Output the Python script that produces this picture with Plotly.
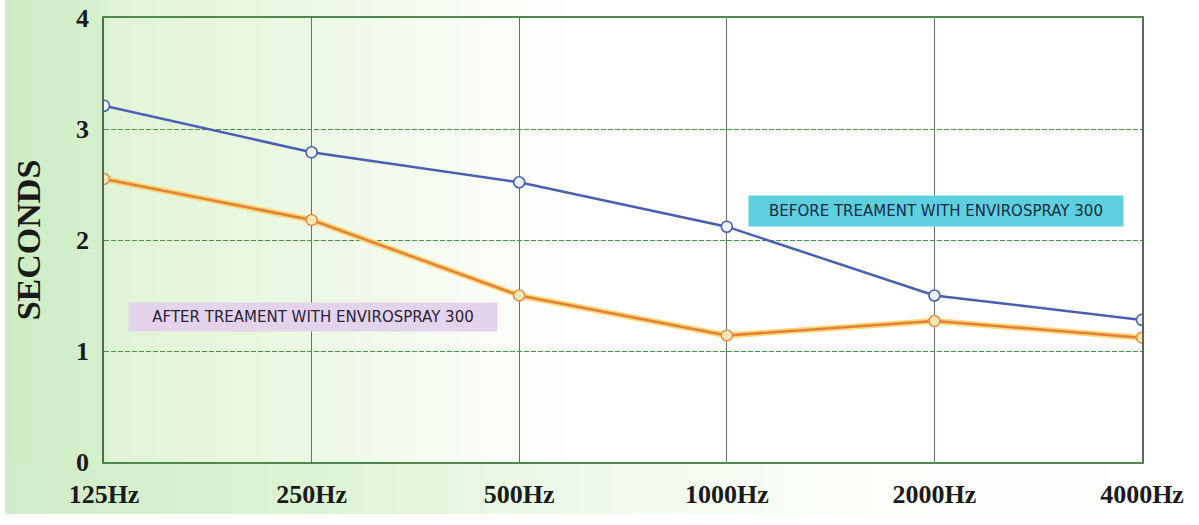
import plotly.graph_objects as go

categories = ["125Hz", "250Hz", "500Hz", "1000Hz", "2000Hz", "4000Hz"]
before = [3.21, 2.79, 2.52, 2.12, 1.50, 1.28]
after = [2.55, 2.18, 1.50, 1.14, 1.27, 1.12]
y_ticks = [0, 1, 2, 3, 4]
label_before = "BEFORE TREAMENT WITH ENVIROSPRAY 300"
label_after = "AFTER TREAMENT WITH ENVIROSPRAY 300"

xpos = list(range(len(categories)))

W, H = 1199, 525
ML, MT = 104, 18
MR = W - 1142
MB = H - 462
PW = W - ML - MR
PH = H - MT - MB


def px_to_paper_x(p):
    return (p - ML) / PW


def py_to_paper_y(q):
    return (H - MB - q) / PH


def lerp(c0, c1, t):
    return tuple(int(round(a + (b - a) * t)) for a, b in zip(c0, c1))


def grad_color(p):
    # light green on the left, fading to white
    stops = [(0, (204, 236, 196)), (100, (214, 240, 204)),
             (110, (224, 244, 214)), (300, (236, 248, 228)),
             (470, (248, 252, 244)), (580, (255, 255, 255))]
    for (p0, c0), (p1, c1) in zip(stops, stops[1:]):
        if p <= p1:
            return lerp(c0, c1, (p - p0) / (p1 - p0))
    return (255, 255, 255)


def grad_bottom(p):
    stops = [(0, (206, 237, 198)), (300, (220, 243, 212)),
             (600, (240, 250, 236)), (900, (252, 254, 250)),
             (1200, (255, 255, 255))]
    for (p0, c0), (p1, c1) in zip(stops, stops[1:]):
        if p <= p1:
            return lerp(c0, c1, (p - p0) / (p1 - p0))
    return (255, 255, 255)


shapes = []
step = 8
X0 = 5
for p in range(X0, 600, step):
    c = grad_color(p + step / 2)
    shapes.append(dict(type="rect", xref="paper", yref="paper",
                       x0=px_to_paper_x(p), x1=px_to_paper_x(p + step + 0.5),
                       y0=py_to_paper_y(463), y1=py_to_paper_y(0),
                       fillcolor="rgb(%d,%d,%d)" % c, line=dict(width=0),
                       layer="below"))
for p in range(X0, 1200, step):
    c = grad_bottom(p + step / 2)
    shapes.append(dict(type="rect", xref="paper", yref="paper",
                       x0=px_to_paper_x(p), x1=px_to_paper_x(p + step + 0.5),
                       y0=py_to_paper_y(514), y1=py_to_paper_y(462),
                       fillcolor="rgb(%d,%d,%d)" % c, line=dict(width=0),
                       layer="below"))

fig = go.Figure()

# after series: glow + core
fig.add_trace(go.Scatter(x=xpos, y=after, mode="lines",
                         line=dict(color="rgba(250,212,105,0.9)", width=6),
                         hoverinfo="skip", showlegend=False))
fig.add_trace(go.Scatter(x=xpos, y=after, mode="lines+markers",
                         line=dict(color="#e3803a", width=2.5),
                         marker=dict(size=11, color="#fde6b5",
                                     line=dict(color="#e38e45", width=1.5)),
                         showlegend=False))
# before series
fig.add_trace(go.Scatter(x=xpos, y=before, mode="lines+markers",
                         line=dict(color="#4a5fb2", width=2.5),
                         marker=dict(size=11, color="#eef3ff",
                                     line=dict(color="#4a5fb2", width=1.6)),
                         showlegend=False))

fig.add_annotation(x=4.01, y=2.26, xref="x", yref="y", text=label_before,
                   showarrow=False, bgcolor="#5ccfe0",
                   width=364, height=20, borderpad=5,
                   font=dict(family="DejaVu Sans", size=15, color="#1c2a40"))
fig.add_annotation(x=1.005, y=1.31, xref="x", yref="y", text=label_after,
                   showarrow=False, bgcolor="#e3d4ec",
                   width=358, height=18, borderpad=5,
                   font=dict(family="DejaVu Sans", size=15, color="#2a2235"))

serif = "Liberation Serif"
fig.update_layout(
    width=W, height=H,
    margin=dict(l=ML, r=MR, t=MT, b=MB, autoexpand=False),
    paper_bgcolor="white",
    plot_bgcolor="rgba(0,0,0,0)",
    shapes=shapes,
    showlegend=False,
    xaxis=dict(range=[0, 5], tickvals=xpos, ticktext=categories,
               automargin=False, ticklabeloverflow="allow",
               showgrid=True, gridcolor="#5c7a5c", gridwidth=1.3,
               zeroline=False, showline=True, linecolor="#4e8a4e",
               linewidth=1.6, mirror=True, ticks="",
               ticklabelstandoff=8,
               tickfont=dict(family=serif, size=26, color="#1a1a1a",
                             weight="bold")),
    yaxis=dict(range=[0, 4], tickvals=y_ticks,
               automargin=False, ticklabeloverflow="allow",
               showgrid=True, gridcolor="#3f9a3f", gridwidth=1.4,
               griddash="5px,2px",
               zeroline=False, showline=True, linecolor="#4e6e4e",
               linewidth=1.6, mirror=True, ticks="",
               ticklabelstandoff=8,
               tickfont=dict(family=serif, size=26, color="#1a1a1a",
                             weight="bold"),
               title=dict(text="SECONDS", standoff=25,
                          font=dict(family=serif, size=34, color="#1a1a1a",
                                    weight="bold"))),
)

# remove the browser's default page margin so the figure fills the window
fig.write_html("out.html",
               config={"displayModeBar": False},
               post_script="document.body.style.margin='0';"
                           "document.body.style.overflow='hidden';")
